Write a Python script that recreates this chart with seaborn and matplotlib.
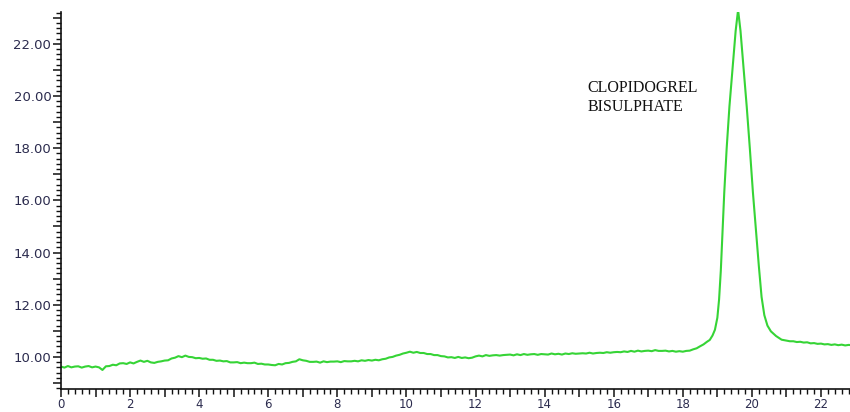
import numpy as np
import pandas as pd
import matplotlib
matplotlib.use("Agg")
import matplotlib.pyplot as plt
import seaborn as sns
from matplotlib.ticker import MultipleLocator, FuncFormatter

# Detector trace (minutes, mAU)
time_front = np.round(np.arange(0.0, 18.45, 0.1), 2)
signal_front = [
    9.63, 9.59, 9.65, 9.60, 9.63, 9.64, 9.59, 9.63, 9.65, 9.60,
    9.63, 9.60, 9.50, 9.64, 9.65, 9.70, 9.68, 9.75, 9.76, 9.73,
    9.79, 9.75, 9.81, 9.86, 9.81, 9.85, 9.79, 9.77, 9.81, 9.83,
    9.86, 9.87, 9.94, 9.97, 10.03, 9.99, 10.05, 10.00, 9.99, 9.95,
    9.96, 9.93, 9.94, 9.89, 9.89, 9.85, 9.86, 9.83, 9.84, 9.79,
    9.79, 9.80, 9.76, 9.78, 9.76, 9.76, 9.78, 9.73, 9.74, 9.71,
    9.71, 9.69, 9.68, 9.73, 9.71, 9.76, 9.77, 9.81, 9.83, 9.91,
    9.87, 9.85, 9.81, 9.81, 9.82, 9.78, 9.83, 9.80, 9.82, 9.82,
    9.83, 9.80, 9.84, 9.83, 9.83, 9.85, 9.83, 9.87, 9.85, 9.88,
    9.86, 9.89, 9.87, 9.91, 9.93, 9.98, 10.00, 10.05, 10.08, 10.13,
    10.16, 10.20, 10.16, 10.19, 10.15, 10.15, 10.11, 10.11, 10.07, 10.07,
    10.03, 10.02, 9.98, 9.99, 9.96, 10.00, 9.96, 9.98, 9.95, 9.97,
    10.02, 10.05, 10.02, 10.07, 10.04, 10.06, 10.07, 10.05, 10.07, 10.08,
    10.09, 10.06, 10.10, 10.07, 10.11, 10.08, 10.10, 10.11, 10.08, 10.11,
    10.10, 10.09, 10.13, 10.10, 10.12, 10.09, 10.13, 10.11, 10.14, 10.12,
    10.13, 10.14, 10.13, 10.16, 10.13, 10.15, 10.16, 10.15, 10.18, 10.16,
    10.18, 10.19, 10.18, 10.21, 10.19, 10.23, 10.20, 10.24, 10.21, 10.23,
    10.24, 10.22, 10.26, 10.23, 10.23, 10.24, 10.21, 10.23, 10.20, 10.22,
    10.20, 10.23, 10.24, 10.29, 10.33,
]

time_peak = [
    18.49, 18.60, 18.70, 18.78, 18.86, 18.93, 19.00, 19.05, 19.10, 19.15,
    19.20, 19.27, 19.35, 19.45, 19.53, 19.60, 19.67, 19.75, 19.85, 19.94,
    20.03, 20.12, 20.20, 20.28, 20.36, 20.45, 20.55, 20.70, 20.86, 21.10,
]
signal_peak = [
    10.40, 10.48, 10.58, 10.65, 10.82, 11.04, 11.50, 12.20, 13.30, 14.80,
    16.30, 18.00, 19.60, 21.20, 22.50, 23.30, 22.50, 21.20, 19.60, 18.00,
    16.30, 14.80, 13.50, 12.30, 11.60, 11.20, 10.98, 10.80, 10.66, 10.60,
]

time_tail = [
    21.2, 21.3, 21.4, 21.5, 21.6, 21.7, 21.8, 21.9, 22.0,
    22.1, 22.2, 22.3, 22.4, 22.5, 22.6, 22.7, 22.8, 22.9,
]
signal_tail = [
    10.60, 10.57, 10.58, 10.55, 10.56, 10.52, 10.53, 10.50, 10.51,
    10.48, 10.49, 10.46, 10.48, 10.45, 10.47, 10.44, 10.46, 10.45,
]

peak_name = "CLOPIDOGREL\nBISULPHATE"

trace = pd.DataFrame({
    "time": np.concatenate([time_front, time_peak, time_tail]),
    "signal": np.concatenate([signal_front, signal_peak, signal_tail]),
})

sns.set_style("ticks")
plt.rcParams["font.family"] = ["DejaVu Sans"]

fig = plt.figure(figsize=(8.5, 4.12), dpi=100)
ax = fig.add_axes([61 / 850, 23 / 412, 789 / 850, 377 / 412])

sns.lineplot(data=trace, x="time", y="signal", ax=ax, color="#36d436",
             linewidth=1.5, estimator=None, sort=False)

ax.set_xlim(0, 22.84)
ax.set_ylim(8.77, 23.22)
ax.set_xlabel("")
ax.set_ylabel("")

for side in ("top", "right"):
    ax.spines[side].set_visible(False)
for side in ("left", "bottom"):
    ax.spines[side].set_color("#111111")
    ax.spines[side].set_linewidth(1.2)

label_color = "#2b2b4e"
ax.xaxis.set_major_locator(MultipleLocator(1))
ax.xaxis.set_minor_locator(MultipleLocator(0.2))
ax.xaxis.set_major_formatter(FuncFormatter(
    lambda v, p: f"{v:.0f}" if round(v) % 2 == 0 else ""))
ax.yaxis.set_major_locator(MultipleLocator(1))
ax.yaxis.set_minor_locator(MultipleLocator(0.2))
ax.yaxis.set_major_formatter(FuncFormatter(
    lambda v, p: f"{v:.2f}" if round(v) % 2 == 0 else ""))

ax.tick_params(axis="both", which="major", direction="out", length=6,
               width=1.1, color="#111111", labelcolor=label_color)
ax.tick_params(axis="both", which="minor", direction="out", length=3.5,
               width=1.0, color="#111111")
ax.tick_params(axis="x", which="major", labelsize=8.5, pad=0.5)
ax.tick_params(axis="y", which="major", labelsize=9.5, pad=1)

ax.text(15.25, 20.6, peak_name, family=["Liberation Serif"], fontsize=11.5,
        color="#111111", va="top", ha="left", linespacing=1.25)

fig.savefig("out.png", dpi=100, facecolor="white")
